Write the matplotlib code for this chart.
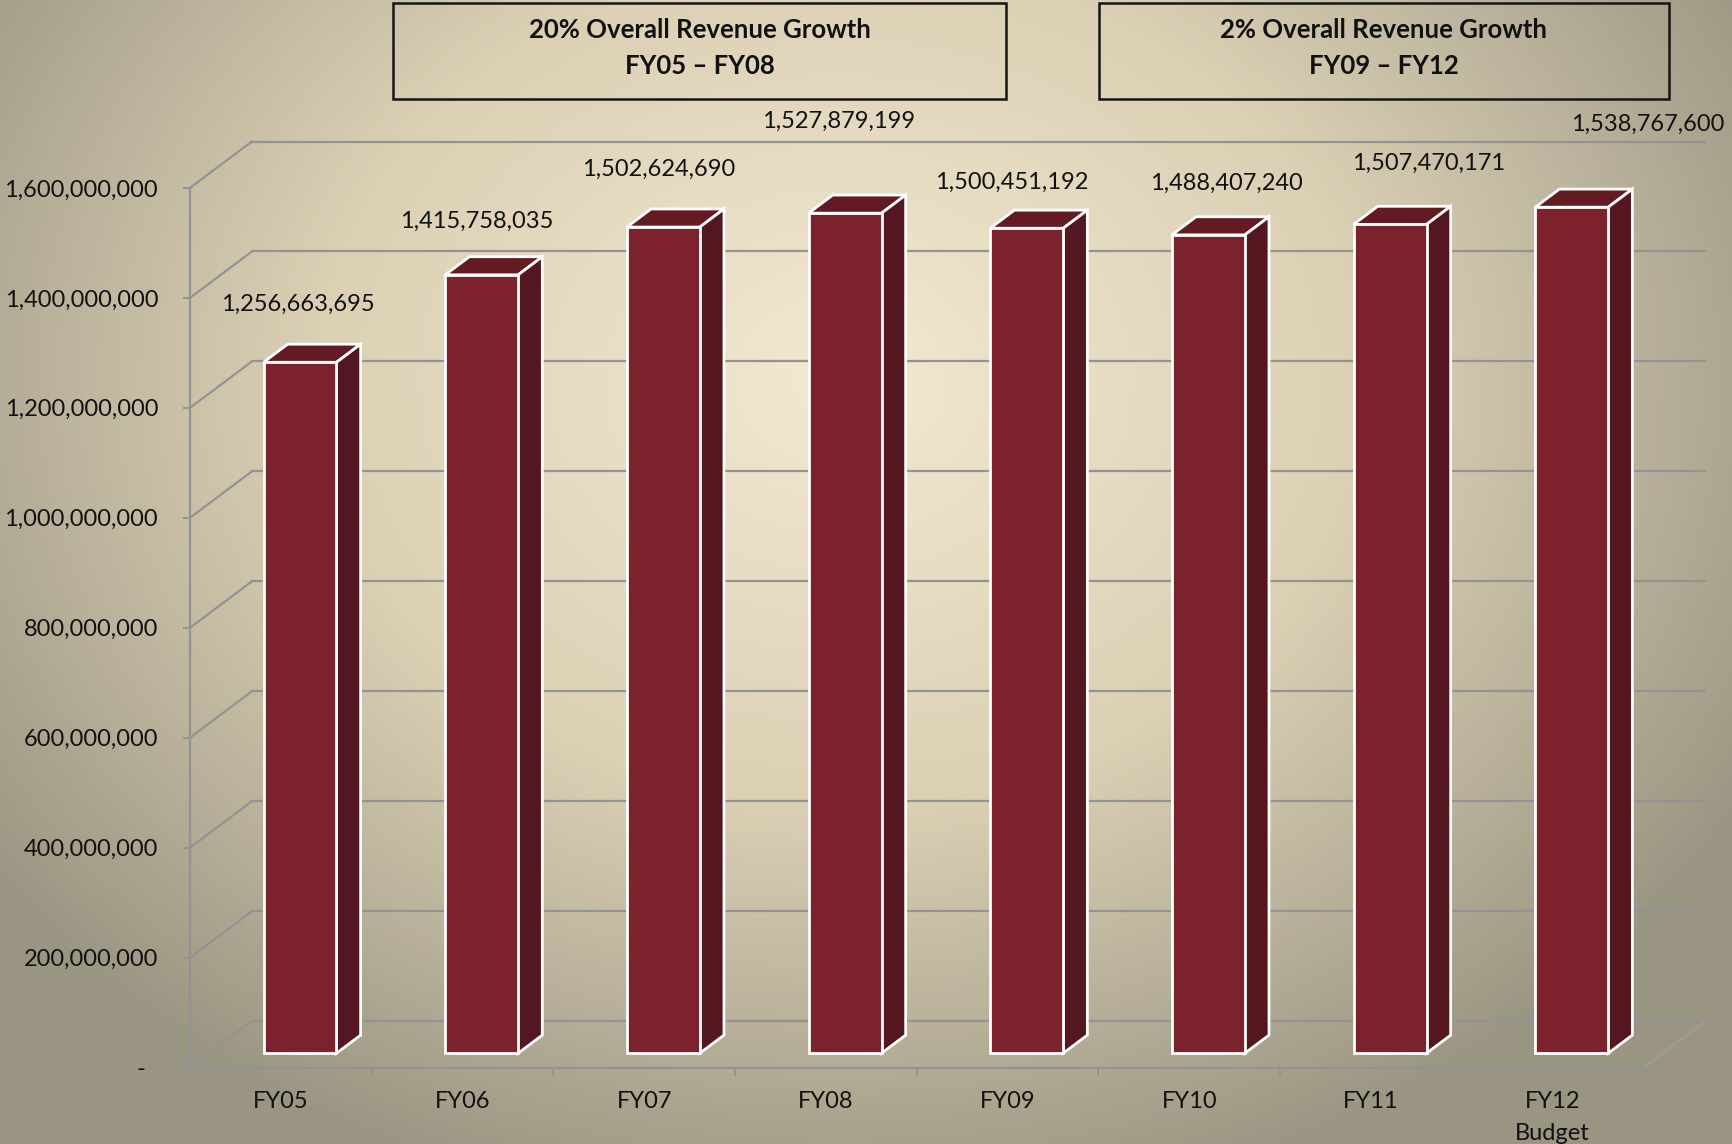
import numpy as np
import matplotlib.pyplot as plt
from matplotlib.patches import Polygon, Rectangle
from matplotlib.colors import LinearSegmentedColormap
from matplotlib.ticker import FuncFormatter

plt.rcParams["font.family"] = ["Lato", "DejaVu Sans"]

# data
years = ["FY05", "FY06", "FY07", "FY08", "FY09", "FY10", "FY11", "FY12\nBudget"]
revenue = [1256663695, 1415758035, 1502624690, 1527879199,
           1500451192, 1488407240, 1507470171, 1538767600]
yticks = [0, 200e6, 400e6, 600e6, 800e6, 1000e6, 1200e6, 1400e6, 1600e6]
box_titles = ["20% Overall Revenue Growth\nFY05 \u2013 FY08",
              "2% Overall Revenue Growth\nFY09 \u2013 FY12"]

# label nudges (pixels) - the labels in the original were dragged around by hand
label_off = [(17, 72), (14, 68), (14, 72), (13, 106),
             (4, 60), (37, 66), (58, 75), (95, 97)]

W, H = 1733, 1144
fig = plt.figure(figsize=(W / 100, H / 100), dpi=100)

# background: soft radial gradient
bg = fig.add_axes([0, 0, 1, 1])
yy, xx = np.mgrid[0:H, 0:W]
r = np.sqrt(((xx - 840) / 1050.0) ** 2 + ((yy - 380) / 850.0) ** 2)
cmap = LinearSegmentedColormap.from_list("bg", ["#f3e9d1", "#dbd0b4", "#9a9583"])
bg.imshow(np.clip(r, 0, 1), cmap=cmap, extent=(0, W, H, 0), aspect="auto", vmin=0, vmax=1)
bg.set_xlim(0, W)
bg.set_ylim(H, 0)
bg.axis("off")

for (x0, x1), txt in zip([(393.5, 1005.7), (1098.6, 1668.9)], box_titles):
    bg.add_patch(Rectangle((x0, 2.5), x1 - x0, 96, fill=False, ec="#151515", lw=1.8))
    bg.text((x0 + x1) / 2, 48, txt, ha="center", va="center", fontsize=18.5,
            fontweight="bold", color="#111111", linespacing=1.55)

# main chart area (front wall coordinates)
x_axis, y0_px, y16_px = 190, 1067.6, 187.9
cat_px = (1643.4 - 190) / 8
val_px = (y0_px - y16_px) / 1.6e9
ax = fig.add_axes([x_axis / W, (H - y0_px) / H, (W - x_axis) / W, y0_px / H])
ax.set_xlim(0, (W - x_axis) / cat_px)
ax.set_ylim(0, y0_px / val_px)
ax.patch.set_alpha(0)

DX, DY = 61.9 / cat_px, 46.4 / val_px   # full floor depth
grid_c = "#939393"
for v in yticks:
    ax.plot([0, DX], [v, v + DY], color=grid_c, lw=1.6, zorder=1)
    ax.plot([DX, 8 + DX], [v + DY, v + DY], color=grid_c, lw=1.6, zorder=1)
ax.plot([8, 8 + DX], [0, DY], color="#9c9c9c", lw=1.4, zorder=1)

for s in ["top", "right"]:
    ax.spines[s].set_visible(False)
ax.spines["left"].set_bounds(0, 1.6e9)
ax.spines["bottom"].set_bounds(0, 8)
for s in ["left", "bottom"]:
    ax.spines[s].set_color(grid_c)
    ax.spines[s].set_linewidth(1.6)

ax.set_yticks(yticks)
ax.yaxis.set_major_formatter(FuncFormatter(lambda v, p: "-  " if v == 0 else f"{v:,.0f}"))
ax.tick_params(axis="y", length=5, width=1.4, color=grid_c, pad=18, labelsize=17,
               labelcolor="#111111")
ax.set_xticks(np.arange(9))
ax.set_xticklabels([])
ax.set_xticks(np.arange(8) + 0.5, minor=True)
ax.set_xticklabels(years, minor=True, fontsize=17, color="#111111", linespacing=1.65)
ax.tick_params(axis="x", which="major", length=6, width=1.4, color=grid_c)
ax.tick_params(axis="x", which="minor", length=0, pad=17)

# 3D-looking bars
f0, fb = 0.31, 0.39
dx0, dy0 = f0 * DX, f0 * DY
bdx, bdy = fb * DX, fb * DY
bw = 0.4015
xc = np.arange(8) + 0.5 + dx0
ax.bar(xc, revenue, width=bw, bottom=dy0, color="#7b222d", edgecolor="white",
       linewidth=2, zorder=4)
for x, v in zip(xc, revenue):
    xl, xr, top = x - bw / 2, x + bw / 2, dy0 + v
    ax.add_patch(Polygon([(xl, top), (xr, top), (xr + bdx, top + bdy), (xl + bdx, top + bdy)],
                         closed=True, fc="#631a23", ec="white", lw=2, zorder=3))
    ax.add_patch(Polygon([(xr, dy0), (xr + bdx, dy0 + bdy), (xr + bdx, top + bdy), (xr, top)],
                         closed=True, fc="#55171f", ec="white", lw=2, zorder=3))

for i, v in enumerate(revenue):
    ax.annotate(f"{v:,}", (i + 0.5, v), xytext=label_off[i], textcoords="offset pixels",
                ha="center", va="center", fontsize=17, color="#111111", zorder=6)

fig.savefig("out.png", dpi=100)
